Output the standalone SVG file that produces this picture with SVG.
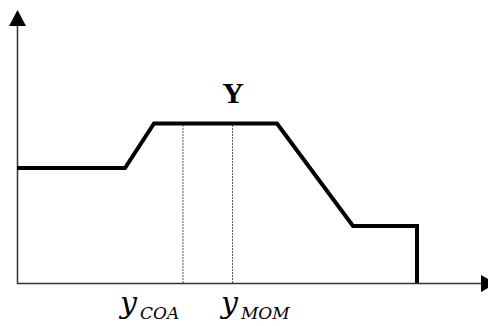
<svg xmlns="http://www.w3.org/2000/svg" width="488" height="326" viewBox="0 0 488 326">
<style>
.axis{stroke:#333;stroke-width:1.5;fill:none}
.curve{stroke:#000;stroke-width:4;fill:none;stroke-linejoin:miter}
.guide{stroke:#333;stroke-width:0.8;stroke-dasharray:2,1;fill:none}
.lbl{font-family:"DejaVu Serif","Liberation Serif",serif;font-style:italic;fill:#000}
</style>
<g id="connectors">
<line class="axis" x1="17.5" y1="284" x2="17.5" y2="24"/>
<polygon points="17.5,10 9,26 26,26" fill="#000"/>
<line class="axis" x1="17" y1="283.5" x2="484" y2="283.5"/>
<polygon points="496,283.5 481,275 481,292" fill="#000"/>
<polyline class="curve" points="17,168 125,168 154,123.5 277,123.5 353,226 417,226 417,283"/>
<line class="guide" x1="183" y1="125" x2="183" y2="283"/>
<line class="guide" x1="232.5" y1="125" x2="232.5" y2="283"/>
</g>
<g id="label-Y">
<text x="233" y="103" font-family="Liberation Serif,serif" font-weight="bold" font-size="30" text-anchor="middle">Y</text>
</g>
<g id="label-ycoa">
<text class="lbl" x="120" y="313" font-size="30">y<tspan font-size="17" dx="3" dy="6">COA</tspan></text>
</g>
<g id="label-ymom">
<text class="lbl" x="221" y="313" font-size="30">y<tspan font-size="17" dx="3" dy="6">MOM</tspan></text>
</g>
</svg>
